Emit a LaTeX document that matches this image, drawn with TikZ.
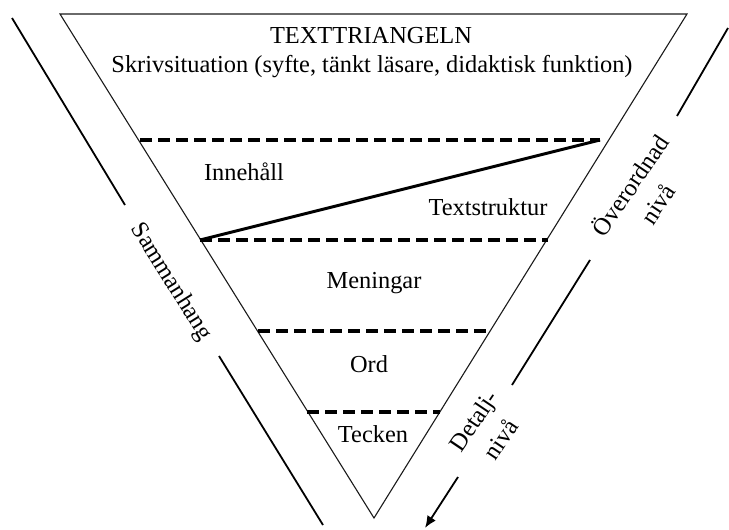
\documentclass[tikz,border=0pt]{standalone}
\usepackage{fontspec}
\setmainfont{Liberation Serif}
\usetikzlibrary{arrows.meta}
\definecolor{ink}{HTML}{000000}
\definecolor{frame}{HTML}{1A1A1A}
\tikzset{tri/.style={draw=frame,line width=0.55pt,line join=miter}}
\tikzset{levelline/.style={draw=ink,line width=1.6pt,dash pattern=on 6pt off 3pt}}
\tikzset{split/.style={draw=ink,line width=1.5pt}}
\tikzset{lbl/.style={text=ink,inner sep=0pt,anchor=base,font=\fontsize{12.2}{14.6}\selectfont}}
\tikzset{side/.style={draw=ink,line width=0.9pt}}
\tikzset{sidelbl/.style={text=ink,inner sep=0pt,align=center,font=\fontsize{12.2}{16.5}\selectfont}}
\tikzset{dirarrow/.style={draw=ink,line width=0.9pt,-{Latex[length=6pt,width=5pt]}}}

\begin{document}
\begin{tikzpicture}[x=0.5pt,y=-0.5pt]
    \useasboundingbox (0,0) rectangle (729,530);

    % the triangle
    \coordinate (tl) at (60,14);
    \coordinate (tr) at (687,14);
    \coordinate (tip) at (374,518);
    \draw[tri] (tl) -- (tr) -- (tip) -- cycle;

    % level lines
    \coordinate (d1l) at (140,140);
    \coordinate (d1r) at (600,140);
    \coordinate (d2l) at (200,240);
    \coordinate (d2r) at (548,240);
    \coordinate (d3l) at (258,331);
    \coordinate (d3r) at (486,331);
    \coordinate (d4l) at (307,412);
    \coordinate (d4r) at (440,412);
    \draw[levelline] (d1l) -- (d1r);
    \draw[levelline] (d2l) -- (d2r);
    \draw[levelline] (d3l) -- (d3r);
    \draw[levelline] (d4l) -- (d4r);
    \draw[split] (d2l) -- (d1r);

    \node[lbl] (title) at (371,43) {TEXTTRIANGELN};
    \node[lbl] (situation) at (372,72)
    {Skrivsituation (syfte, tänkt läsare, didaktisk funktion)};
    \node[lbl] (content) at (244,180) {Innehåll};
    \node[lbl] (structure) at (488,215) {Textstruktur};
    \node[lbl] (sentences) at (374,288) {Meningar};
    \node[lbl] (words) at (369,372) {Ord};
    \node[lbl] (signs) at (373,442) {Tecken};

    % left side
    \node[sidelbl,rotate=-58] (context) at (171,282) {Sammanhang};
    \coordinate (l1) at (12,18);
    \coordinate (l2) at (125,205);
    \coordinate (l3) at (219,356);
    \coordinate (l4) at (323,525);
    \draw[side] (l1) -- (l2);
    \draw[side] (l3) -- (l4);

    % right side
    \node[sidelbl,rotate=56] (upper) at (643,194) {Överordnad\\nivå};
    \node[sidelbl,rotate=56] (detail) at (487,430) {Detalj-\\nivå};
    \coordinate (r1) at (728,28);
    \coordinate (r2) at (677,116);
    \coordinate (r3) at (590,260);
    \coordinate (r4) at (512,385);
    \coordinate (a1) at (458,477);
    \coordinate (a2) at (425,528);
    \draw[side] (r1) -- (r2);
    \draw[side] (r3) -- (r4);
    \draw[dirarrow] (a1) -- (a2);
\end{tikzpicture}
\end{document}
